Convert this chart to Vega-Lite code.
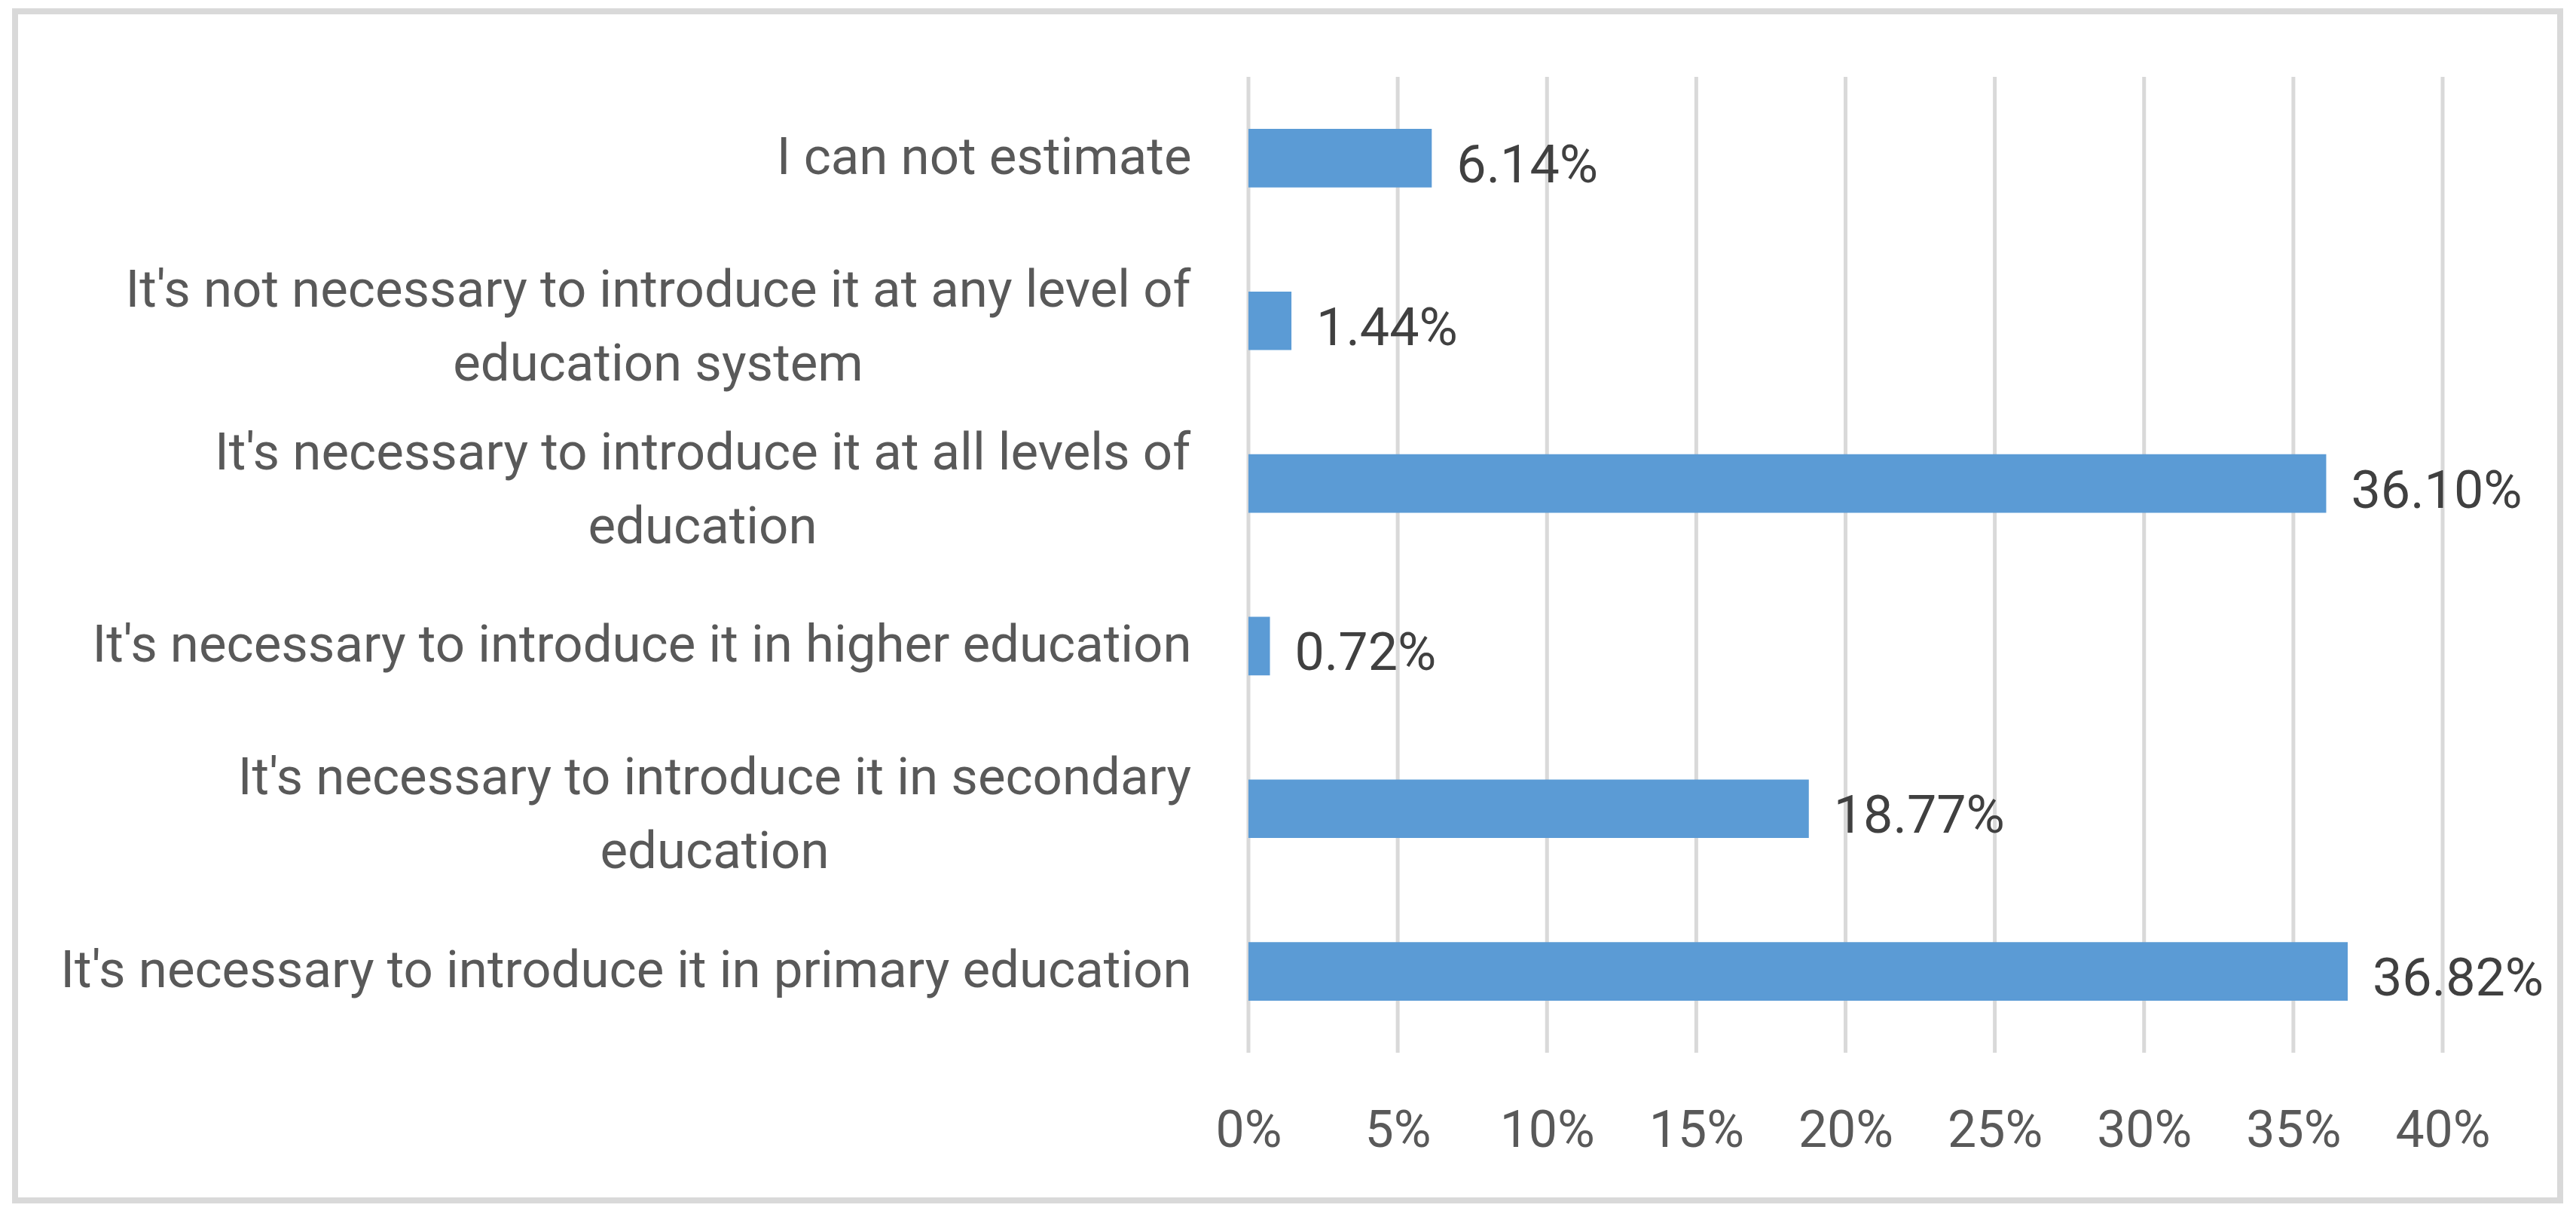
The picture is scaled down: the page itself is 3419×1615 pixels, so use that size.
{
  "$schema": "https://vega.github.io/schema/vega-lite/v6.json",
  "width": 3378,
  "height": 1578,
  "autosize": {"type": "none"},
  "padding": {"left": 20, "top": 15, "right": 21, "bottom": 22},
  "background": "white",
  "config": {"view": {"stroke": "#d9d9d9", "strokeWidth": 8}, "font": "Roboto"},
  "datasets": {
    "answers": [
      {"answer": "I can not estimate", "share": 0.0614},
      {"answer": "It's not necessary to introduce it at any level of|education system", "share": 0.0144},
      {"answer": "It's necessary to introduce it at all levels of|education", "share": 0.361},
      {"answer": "It's necessary to introduce it in higher education", "share": 0.0072},
      {"answer": "It's necessary to introduce it in secondary|education", "share": 0.1877},
      {"answer": "It's necessary to introduce it in primary education", "share": 0.3682}
    ],
    "gridticks": [
      {"tick": 0}, {"tick": 0.05}, {"tick": 0.1}, {"tick": 0.15}, {"tick": 0.2},
      {"tick": 0.25}, {"tick": 0.3}, {"tick": 0.35}, {"tick": 0.4}
    ]
  },
  "data": {"name": "answers"},
  "encoding": {
    "x": {
      "field": "share",
      "type": "quantitative",
      "title": null,
      "scale": {"domain": [0, 0.4], "range": [1637, 3222], "nice": false},
      "axis": {
        "title": null,
        "orient": "bottom",
        "offset": -196,
        "values": [0, 0.05, 0.1, 0.15, 0.2, 0.25, 0.3, 0.35, 0.4],
        "format": ".0%",
        "grid": false,
        "domain": false,
        "ticks": false,
        "labelFont": "Roboto",
        "labelFontSize": 68,
        "labelColor": "#595959",
        "labelPadding": 104,
        "labelBaseline": "middle",
        "labelFlush": false,
        "labelOverlap": false
      }
    }
  },
  "layer": [
    {
      "data": {"name": "gridticks"},
      "mark": {"type": "rule", "color": "#d9d9d9", "strokeWidth": 5},
      "encoding": {
        "x": {"field": "tick", "type": "quantitative", "title": null},
        "y": {"datum": 0, "type": "quantitative", "scale": {"domain": [0, 1], "range": [87, 1382], "nice": false, "zero": false}, "axis": null},
        "y2": {"datum": 1}
      }
    },
    {
      "encoding": {
        "y": {
          "field": "answer",
          "type": "nominal",
          "sort": null,
          "scale": {"range": [87, 1382], "paddingInner": 0.64, "paddingOuter": 0.32},
          "axis": {
            "title": null,
            "orient": "left",
            "offset": -1561,
            "domain": false,
            "ticks": false,
            "grid": false,
            "labelFont": "Roboto",
            "labelFontSize": 69,
            "labelColor": "#595959",
            "labelLimit": 3000,
            "labelLineHeight": 98,
            "labelBaseline": "middle",
            "labelExpr": "split(datum.label, '|')",
            "labelAlign": {"condition": {"test": "indexof(datum.value, '|') >= 0", "value": "center"}, "value": "right"},
            "labelOffset": {"condition": {"test": "indexof(datum.value, '|') >= 0", "value": -40}, "value": 0},
            "labelPadding": {
              "condition": [
                {"test": "indexof(datum.value, 'any level') >= 0", "value": 708},
                {"test": "indexof(datum.value, 'all levels') >= 0", "value": 649},
                {"test": "indexof(datum.value, 'secondary') >= 0", "value": 633}
              ],
              "value": 0
            }
          }
        }
      },
      "layer": [
        {"mark": {"type": "bar", "color": "#5b9bd5"}},
        {
          "mark": {"type": "text", "align": "left", "baseline": "middle", "dx": 33, "dy": 11, "fontSize": 70, "color": "#404040", "font": "Roboto"},
          "encoding": {"text": {"field": "share", "type": "quantitative", "format": ".2%"}}
        }
      ]
    }
  ],
  "resolve": {"scale": {"y": "independent"}}
}
